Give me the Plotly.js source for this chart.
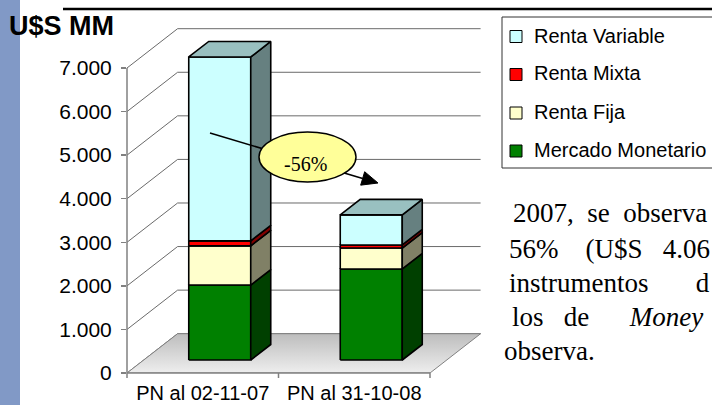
<!DOCTYPE html>
<html><head><meta charset="utf-8">
<script src="https://cdn.plot.ly/plotly-3.0.1.min.js"></script>
<style>html,body{margin:0;padding:0;background:#fff;overflow:hidden}#chart{width:712px;height:405px}</style>
</head><body><div id="chart"></div>
<script>
// ---------- data ----------
const categories = ['PN al 02-11-07', 'PN al 31-10-08'];
const seriesNames = ['Mercado Monetario', 'Renta Fija', 'Renta Mixta', 'Renta Variable'];
const mercadoMonetario = [1720, 2090];
const rentaFija = [900, 480];
const rentaMixta = [115, 70];
const rentaVariable = [4220, 690];
const yTickValues = [0, 1000, 2000, 3000, 4000, 5000, 6000, 7000];
const unitLabel = 'U$S MM';
const changeLabel = '-56%';
const bodyLines = ['2007,\u00a0\u00a0se\u00a0\u00a0observa', '56%\u00a0\u00a0\u00a0\u00a0(U$S\u00a0\u00a0\u00a04.06', 'instrumentos\u00a0\u00a0\u00a0\u00a0\u00a0\u00a0\u00a0d', 'los\u00a0\u00a0\u00a0de\u00a0\u00a0\u00a0\u00a0\u00a0\u00a0<i>Money</i>', 'observa.'];

// ---------- style ----------
const frontColors = ['#008000', '#FFFFCC', '#FF0000', '#CCFFFF'];
const sideColors  = ['#004000', '#808066', '#800000', '#668080'];
const topColors   = ['#006000', '#BFBF99', '#BF0000', '#99C0C0'];
const SANS = 'Liberation Sans, Arial, sans-serif';
const SERIF = 'Liberation Serif, Times New Roman, serif';

const W = 712, H = 405;
const M = {l: 127, r: 222, t: 20, b: 32};
const PX_PER_CAT = 151.5;
const PX_PER_VAL = 305 / 7000;
const plotW = W - M.l - M.r, plotH = H - M.t - M.b;
const xRange = [0, plotW / PX_PER_CAT];
const yRange = [0, plotH / PX_PER_VAL];
const WALL = {dx: 50.6 / PX_PER_CAT, dy: 39.3 / PX_PER_VAL};
const BAR_W = 62 / PX_PER_CAT;
const BAR_OFF = {dx: 17 / PX_PER_CAT, dy: 13 / PX_PER_VAL};
const BAR_DEPTH = {dx: 20 / PX_PER_CAT, dy: 15.5 / PX_PER_VAL};

const px = x => M.l + x * PX_PER_CAT;           // data x -> page px
const py = y => H - M.b - y * PX_PER_VAL;       // data y -> page px
const pX = p => (p - M.l) / plotW;              // page px -> paper fraction
const pY = p => (H - M.b - p) / plotH;

const nCat = categories.length;
const series = [mercadoMonetario, rentaFija, rentaMixta, rentaVariable];

// ---------- traces ----------
const traces = [];
traces.push({
  type: 'scatter', mode: 'lines', hoverinfo: 'skip', showlegend: false,
  x: [0, nCat, nCat + WALL.dx, WALL.dx, 0],
  y: [0, 0, WALL.dy, WALL.dy, 0],
  fill: 'toself', fillcolor: '#d6d6d6',
  fillgradient: {type: 'vertical', colorscale: [[0, '#eeeeee'], [1, '#bdbdbd']]},
  line: {color: '#808080', width: 1}
});

const cum = categories.map(() => 0);
series.forEach((vals, s) => {
  const fx = [], fy = [], sx = [], sy = [];
  vals.forEach((v, i) => {
    const xl = i + 0.5 - BAR_W / 2 + BAR_OFF.dx, xr = xl + BAR_W;
    const yb = cum[i] + BAR_OFF.dy, yt = cum[i] + v + BAR_OFF.dy;
    fx.push(xl, xr, xr, xl, xl, null); fy.push(yb, yb, yt, yt, yb, null);
    sx.push(xr, xr + BAR_DEPTH.dx, xr + BAR_DEPTH.dx, xr, xr, null);
    sy.push(yb, yb + BAR_DEPTH.dy, yt + BAR_DEPTH.dy, yt, yb, null);
    cum[i] += v;
  });
  traces.push({type: 'scatter', mode: 'lines', name: seriesNames[s], hoverinfo: 'skip', showlegend: false,
    x: fx, y: fy, fill: 'toself', fillcolor: frontColors[s], line: {color: '#000', width: 1.6}});
  traces.push({type: 'scatter', mode: 'lines', name: seriesNames[s], hoverinfo: 'skip', showlegend: false,
    x: sx, y: sy, fill: 'toself', fillcolor: sideColors[s], line: {color: '#000', width: 1.6}});
});
{
  const tx = [], ty = [];
  cum.forEach((tot, i) => {
    const xl = i + 0.5 - BAR_W / 2 + BAR_OFF.dx, xr = xl + BAR_W;
    const yt = tot + BAR_OFF.dy;
    tx.push(xl, xr, xr + BAR_DEPTH.dx, xl + BAR_DEPTH.dx, xl, null);
    ty.push(yt, yt, yt + BAR_DEPTH.dy, yt + BAR_DEPTH.dy, yt, null);
  });
  traces.push({type: 'scatter', mode: 'lines', hoverinfo: 'skip', showlegend: false,
    x: tx, y: ty, fill: 'toself', fillcolor: topColors[series.length - 1], line: {color: '#000', width: 1.6}});
}

// ---------- shapes ----------
const shapes = [];
shapes.push({type: 'rect', xref: 'paper', yref: 'paper', x0: pX(0), x1: pX(20), y0: pY(H), y1: pY(0),
  fillcolor: '#8199c6', line: {width: 0}, layer: 'below'});
shapes.push({type: 'line', xref: 'paper', yref: 'paper', x0: pX(63), x1: pX(715), y0: pY(9), y1: pY(9),
  line: {color: '#000', width: 2.5}});
yTickValues.forEach(v => {
  shapes.push({type: 'path', xref: 'x', yref: 'y', layer: 'below',
    path: `M 0,${v} L ${WALL.dx},${v + WALL.dy} L ${nCat + WALL.dx},${v + WALL.dy}`,
    line: {color: '#6a6a6a', width: 1}});
});
const yMax = yTickValues[yTickValues.length - 1];
shapes.push({type: 'line', xref: 'paper', yref: 'paper', x0: pX(px(0)), x1: pX(px(0)), y0: pY(py(0)), y1: pY(py(yMax)),
  line: {color: '#808080', width: 1.5}});
shapes.push({type: 'line', xref: 'paper', yref: 'paper', x0: pX(px(0)), x1: pX(px(nCat)), y0: pY(py(0)), y1: pY(py(0)),
  line: {color: '#808080', width: 1.5}});
for (let i = 0; i <= nCat; i++) {
  shapes.push({type: 'line', xref: 'paper', yref: 'paper', x0: pX(px(i)), x1: pX(px(i)), y0: pY(py(0)), y1: pY(py(0) + 5),
    line: {color: '#808080', width: 1.5}});
}
const LEG = {x: 502, y0: 17, y1: 168, keyX: 516, textX: 532, rows: [36.5, 74.5, 113, 151], key: 12};
shapes.push({type: 'rect', xref: 'paper', yref: 'paper', x0: pX(LEG.x), x1: pX(740), y0: pY(LEG.y1), y1: pY(LEG.y0),
  fillcolor: '#fff', line: {color: '#333', width: 1}});
const annotations = [];
const legendOrder = [3, 2, 1, 0];
legendOrder.forEach((s, r) => {
  const cy = LEG.rows[r];
  shapes.push({type: 'rect', xref: 'paper', yref: 'paper',
    x0: pX(LEG.keyX - LEG.key / 2), x1: pX(LEG.keyX + LEG.key / 2),
    y0: pY(cy + LEG.key / 2), y1: pY(cy - LEG.key / 2),
    fillcolor: frontColors[s], line: {color: '#000', width: 1}});
  annotations.push({xref: 'paper', yref: 'paper', x: pX(LEG.textX), y: pY(cy - 1), xanchor: 'left', yanchor: 'middle',
    text: seriesNames[s], showarrow: false, font: {family: SANS, size: 20, color: '#000'}});
});
const A = {x0: 210, y0: 133, x1: 378, y1: 183, head: 16, half: 7};
{
  const dx = A.x1 - A.x0, dy = A.y1 - A.y0, L = Math.hypot(dx, dy);
  const ux = dx / L, uy = dy / L;
  const bx = A.x1 - ux * A.head, by = A.y1 - uy * A.head;
  shapes.push({type: 'line', xref: 'paper', yref: 'paper', x0: pX(A.x0), y0: pY(A.y0), x1: pX(bx), y1: pY(by),
    line: {color: '#000', width: 1.5}});
  const p1 = [bx - uy * A.half, by + ux * A.half], p2 = [bx + uy * A.half, by - ux * A.half];
  shapes.push({type: 'path', xref: 'paper', yref: 'paper',
    path: `M ${pX(A.x1)},${pY(A.y1)} L ${pX(p1[0])},${pY(p1[1])} L ${pX(p2[0])},${pY(p2[1])} Z`,
    fillcolor: '#000', line: {color: '#000', width: 1}});
}
shapes.push({type: 'circle', xref: 'paper', yref: 'paper', x0: pX(259), x1: pX(356), y0: pY(182), y1: pY(132),
  fillcolor: '#FFFF99', line: {color: '#000', width: 1.5}});
annotations.push({xref: 'paper', yref: 'paper', x: pX(305), y: pY(164), xanchor: 'center', yanchor: 'middle',
  text: changeLabel, showarrow: false, font: {family: SERIF, size: 20, color: '#000'}});
const bodyX = [511, 507, 507, 510, 502];
const bodyY = [213, 249, 283, 317, 351];
bodyLines.forEach((t, k) => {
  annotations.push({xref: 'paper', yref: 'paper', x: pX(bodyX[k]), y: pY(bodyY[k]), xanchor: 'left', yanchor: 'middle',
    text: t, showarrow: false, font: {family: SERIF, size: 27, color: '#000'}});
});

const layout = {
  width: W, height: H, margin: M,
  paper_bgcolor: '#fff', plot_bgcolor: 'rgba(0,0,0,0)',
  separators: ',.', showlegend: false,
  title: {text: unitLabel, x: 9 / W, xanchor: 'left', xref: 'container', y: 1 - 26 / H, yanchor: 'middle', yref: 'container',
    font: {family: SANS, size: 27, weight: 700, color: '#000'}},
  xaxis: {range: xRange, tickvals: categories.map((c, i) => i + 0.5), ticktext: categories, ticks: '',
    showgrid: false, zeroline: false, showline: false, fixedrange: true, ticklabelstandoff: 6,
    tickfont: {family: SANS, size: 20, color: '#000'}},
  yaxis: {range: yRange, tickvals: yTickValues, tickformat: ',d', ticks: 'outside', ticklen: 5,
    tickcolor: '#808080', tickwidth: 1.5, showgrid: false, zeroline: false, showline: false, fixedrange: true,
    ticklabelstandoff: 5, tickfont: {family: SANS, size: 21, color: '#000'}},
  shapes: shapes, annotations: annotations
};
Plotly.newPlot('chart', traces, layout, {displayModeBar: false, staticPlot: true});
</script></body></html>
